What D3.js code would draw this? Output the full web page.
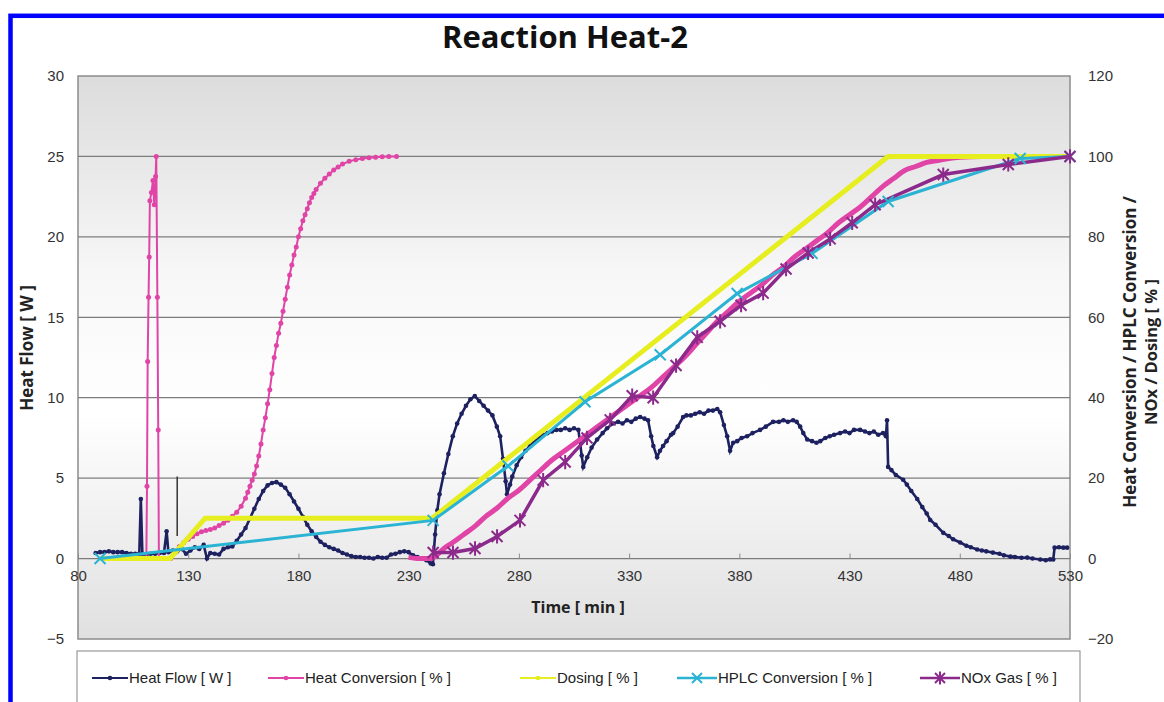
<!DOCTYPE html>
<html>
<head>
<meta charset="utf-8">
<script src="https://cdn.jsdelivr.net/npm/d3@7"></script>
<style>
body { margin: 0; background: #fff; }
svg text { font-family: "Liberation Sans", Arial, sans-serif; }
.title, .axis-title { font-family: "Open Sans", "Liberation Sans", sans-serif !important; font-weight: bold; }
</style>
</head>
<body>
<div class="chart"></div>
<script>
// data: [time min, value]
var leftTicks = [-5, 0, 5, 10, 15, 20, 25, 30];
var rightTicks = [-20, 0, 20, 40, 60, 80, 100, 120];
var timeTicks = [80, 130, 180, 230, 280, 330, 380, 430, 480, 530];

var heatFlow = [
  [88,0.35],[90,0.4],[92,0.4],[94,0.45],[96,0.4],[98,0.4],[100,0.4],[102,0.35],[104,0.3],[106,0.3],
  [107.8,0.3],[108.5,3.7],[109.2,0.3],[111,0.25],[113,0.3],[115,0.3],[117,0.35],[119,0.35],[120.2,1.7],
  [121,0.4],[123,0.5],[125,0.45],[127,0.6],[129,0.3],[131,0.5],[133,0.7],[135,0.6],[137,0.85],[138.5,0.0],
  [140,0.35],[142,0.3],[144,0.25],[146,0.6],[148,0.7],[150,0.75],[152,1.1],[154,1.5],[156,1.9],[158,2.5],
  [160,3.1],[162,3.7],[164,4.2],[166,4.55],[168,4.7],[170,4.75],[172,4.6],[174,4.4],[176,4.0],[178,3.55],
  [180,3.1],[182,2.6],[184,2.1],[186,1.7],[188,1.35],[190,1.05],[192,0.85],[194,0.7],[196,0.6],[198,0.5],
  [200,0.35],[202,0.25],[204,0.15],[206,0.1],[208,0.1],[210,0.05],[212,0.05],[214,0.0],[216,0.1],[218,0.05],
  [220,0.05],[222,0.25],[224,0.3],[226,0.4],[228,0.45],[230,0.4],[232,0.2],[234,0.1],[236,0.0],[238,-0.1],
  [240,-0.3],[241,-0.35],[242,1.5],[243,3.0],[244,4.0],[246,5.3],[248,6.5],[250,7.6],[252,8.4],[254,9.0],
  [256,9.5],[258,9.9],[260,10.1],[262,9.8],[264,9.5],[266,9.2],[268,8.9],[270,8.2],[271.5,7.6],[272.8,6.2],
  [274,4.8],[274.6,4.0],[276,4.6],[277,5.1],[279,5.8],[281,6.3],[283,6.7],[285,7.0],[287,7.3],[289,7.5],
  [291,7.7],[293,7.8],[295,7.9],[297,8.0],[299,8.0],[301,8.1],[303,8.0],[305,8.1],[307,8.0],[308.5,6.4],
  [309.2,5.7],[311,6.3],[313,6.9],[315.5,7.4],[318,7.8],[320,8.1],[322.7,8.4],[325,8.5],[327,8.4],[329,8.6],
  [331,8.5],[333,8.7],[335,8.8],[337,8.7],[338.6,8.6],[340,7.6],[341,7.0],[342.7,6.3],[344,6.7],[345.4,7.0],
  [347,7.3],[349,7.7],[350,7.8],[352,8.2],[354.5,8.8],[356,8.9],[358,8.9],[360,9.0],[362,9.1],[364,9.0],
  [366,9.2],[368,9.2],[370,9.3],[371.3,9.1],[373,8.3],[374.5,7.6],[375.8,6.7],[377.2,7.2],[379,7.3],[381,7.5],
  [383.5,7.6],[386,7.8],[389.4,8.0],[392,8.2],[395.3,8.5],[398,8.5],[400,8.6],[402,8.5],[404.4,8.6],[406,8.5],
  [407.6,8.2],[409,7.8],[410.8,7.4],[413,7.3],[415,7.2],[416.7,7.3],[419,7.5],[421,7.6],[423,7.7],[425.7,7.8],
  [428,7.9],[430,7.8],[432,8.0],[434.8,8.0],[437,7.9],[439,7.8],[441,7.9],[443,7.7],[445.2,7.8],[446.5,7.6],
  [447,8.6],[447.5,5.7],[449,5.5],[451,5.2],[454.3,4.9],[456,4.6],[458,4.2],[460.7,3.7],[463,3.2],[465,2.8],
  [466.6,2.4],[469,2.1],[472.5,1.6],[475,1.4],[477,1.2],[480.2,1.0],[483,0.8],[485,0.7],[487.9,0.56],[490,0.5],
  [492,0.45],[495,0.37],[498,0.3],[500,0.2],[503,0.12],[505,0.1],[508,0.05],[510.6,0.06],[513,0.0],[516.5,-0.06],
  [519,-0.1],[521,-0.05],[522.4,-0.06],[523,0.68],[525,0.7],[527,0.68],[528.7,0.68]
];
// thin vertical mark in the heat flow trace: [time, low W, high W]
var heatFlowMark = [[125, 1.4, 5.1]];

var heatConvEarly = [
  [111,0],[111.3,18],[111.6,49],[112,65],[112.3,75],[112.6,89],[113.3,91],[114,94],[114.6,88],[115.2,95],
  [115.5,100],[116,65],[116.4,32],[116.7,0],
  [122,0],[124,1.5],[126,3],[128,4],[130,4.8],[132,5.5],[134,6.2],[136,6.7],[138,7.0],[140,7.2],[142,7.6],
  [144,8.2],[146,8.8],[148,9.5],[150,10.5],[152,11.5],[154,13],[156,15],[157,16.5],[158,18],[159,19.5],
  [160,21],[161,23],[162,25.5],[163,28.5],[164,32],[165,35],[166,38.5],[167,42],[168,46],[169,50],[170,53],
  [171,56],[172,58.5],[173,61.5],[174,64.5],[175,67.5],[176,70.5],[177,73],[178,75.5],[179,77.5],[180,80],
  [181,82],[182,84],[183,85.5],[184,87],[185,88.5],[186,89.8],[187,90.8],[188,91.8],[190,93.3],[192,94.6],
  [194,95.6],[196,96.6],[198,97.4],[200,98.1],[203,98.8],[206,99.2],[209,99.5],[212,99.7],[215,99.8],
  [218,99.9],[221,100],[224.5,100]
];
var heatConvLate = [
  [230,0.3],[235,0],[240,0],[243,1],[246,2.5],[250,4],[255,6],[260,8],[265,10.5],[270,12.5],[275,15],
  [280,17],[285,19.5],[290,22],[295,24.5],[300,26.5],[305,28.5],[310,30.5],[315,32.5],[320,34.5],[325,36.5],
  [330,38.5],[335,40.5],[340,42.5],[345,45],[350,47.5],[355,50],[360,53],[365,56],[370,59],[375,61.5],[380,64],
  [385,66],[390,68],[395,70.5],[400,72.5],[405,75],[410,77],[415,79],[420,81],[425,83.5],[430,85.5],
  [435,87.5],[440,90],[445,92.5],[450,94.5],[455,96.5],[460,97.5],[465,98.5],[470,99],[475,99.5],
  [480,99.8],[490,100],[500,100],[510,100],[520,100],[530,100]
];
var dosing = [[90,0],[121.7,0],[137.6,10],[240.6,10],[447.5,100],[530,100]];
var hplc = [[90,0],[241.1,9.5],[275.1,23],[310,39],[344.1,50.7],[379,65.9],[413,75.9],[447.5,88.8],[507.4,99.5],[530,100]];
var nox = [[241.1,1.5],[250.1,1.5],[260.1,2.5],[270.1,5.5],[280.5,9.5],[291,19.5],[301,24],[310.9,30],[321.4,34.5],
  [331.4,40.5],[340.9,40],[351.3,48],[360.9,55],[371.3,59],[380.8,63],[390.8,66],[401.2,72],[411.2,76],
  [421.2,79.5],[431.2,83.5],[441.6,88],[472.5,95.5],[502,98],[530,100]];

var seriesNames = ["Heat Flow [ W ]", "Heat Conversion [ % ]", "Dosing [ % ]", "HPLC Conversion [ % ]", "NOx Gas [ % ]"];
var colors = { flow: "#1d2160", conv: "#e044a6", dosing: "#e6ee20", hplc: "#2ab3d3", nox: "#8c2a8c" };

var config = {};
config.svg = { width: 1164, height: 702 };
config.plot = { left: 78, right: 1070, top: 76, bottom: 639 };

var x = d3.scaleLinear().domain([80, 530]).range([config.plot.left, config.plot.right]);
var yL = d3.scaleLinear().domain([-5, 30]).range([config.plot.bottom, config.plot.top]);
var yR = d3.scaleLinear().domain([-20, 120]).range([config.plot.bottom, config.plot.top]);

var translate = (a, b) => "translate(" + a + "," + b + ")";

var svg = d3.select(".chart").append("svg")
  .attr("width", config.svg.width)
  .attr("height", config.svg.height);

// blue frame
svg.append("rect")
  .attr("x", 10.5).attr("y", 15.8)
  .attr("width", 1400).attr("height", 1000)
  .attr("fill", "none").attr("stroke", "#0000ff").attr("stroke-width", 4.5);

var defs = svg.append("defs");
var grad = defs.append("linearGradient").attr("id", "plotbg")
  .attr("x1", 0).attr("y1", 0).attr("x2", 0).attr("y2", 1);
[[0, "#dcdcdc"], [0.35, "#f7f7f7"], [0.6, "#ffffff"], [1, "#e0e0e0"]].forEach(s => {
  grad.append("stop").attr("offset", s[0]).attr("stop-color", s[1]);
});
defs.append("clipPath").attr("id", "clip").append("rect")
  .attr("x", config.plot.left).attr("y", config.plot.top)
  .attr("width", config.plot.right - config.plot.left)
  .attr("height", config.plot.bottom - config.plot.top);

// plot area
svg.append("rect")
  .attr("x", config.plot.left).attr("y", config.plot.top)
  .attr("width", config.plot.right - config.plot.left)
  .attr("height", config.plot.bottom - config.plot.top)
  .attr("fill", "url(#plotbg)")
  .attr("stroke", "#8c8c8c").attr("stroke-width", 1.5);

// grid lines
svg.append("g").selectAll("line")
  .data(leftTicks.filter(d => d > -5 && d < 30))
  .enter().append("line")
  .attr("x1", config.plot.left).attr("x2", config.plot.right)
  .attr("y1", d => yL(d)).attr("y2", d => yL(d))
  .attr("stroke", "#7c7c7c").attr("stroke-width", 1.2);

// axes
var styleAxis = g => {
  g.select(".domain").remove();
  g.selectAll("text").attr("font-size", "15px").attr("fill", "#333");
  g.selectAll("line").attr("stroke", "#8c8c8c");
};
svg.append("g").attr("transform", translate(config.plot.left, 0))
  .call(d3.axisLeft(yL).tickValues(leftTicks).tickSize(0).tickPadding(14).tickFormat(d => d < 0 ? "\u2212" + (-d) : d))
  .call(styleAxis);
svg.append("g").attr("transform", translate(config.plot.right, 0))
  .call(d3.axisRight(yR).tickValues(rightTicks).tickSize(0).tickPadding(18).tickFormat(d => d < 0 ? "\u2212" + (-d) : d))
  .call(styleAxis);
svg.append("g").attr("transform", translate(0, yL(0)))
  .call(d3.axisBottom(x).tickValues(timeTicks).tickSizeInner(-5).tickSizeOuter(0).tickPadding(12))
  .call(styleAxis);

// titles
svg.append("text").attr("class", "title")
  .attr("x", 565).attr("y", 48).attr("text-anchor", "middle")
  .attr("font-size", "31px").attr("fill", "#111").text("Reaction Heat-2");
svg.append("text").attr("class", "axis-title")
  .attr("x", 578).attr("y", 613).attr("text-anchor", "middle")
  .attr("font-size", "16px").attr("fill", "#222").text("Time [ min ]");
svg.append("text").attr("class", "axis-title")
  .attr("transform", translate(33, 348) + " rotate(-90)")
  .attr("text-anchor", "middle").attr("font-size", "17px").attr("fill", "#222")
  .text("Heat Flow [ W ]");
svg.append("text").attr("class", "axis-title")
  .attr("transform", translate(1136, 352) + " rotate(-90)")
  .attr("text-anchor", "middle").attr("font-size", "17px").attr("fill", "#222")
  .text("Heat Conversion / HPLC Conversion /");
svg.append("text").attr("class", "axis-title")
  .attr("transform", translate(1157, 352) + " rotate(-90)")
  .attr("text-anchor", "middle").attr("font-size", "16.5px").attr("fill", "#222")
  .text("NOx / Dosing [ % ]");

// series
var plot = svg.append("g").attr("clip-path", "url(#clip)");
var lineL = d3.line().x(d => x(d[0])).y(d => yL(d[1]));
var lineR = d3.line().x(d => x(d[0])).y(d => yR(d[1]));

// heat flow
plot.append("path").datum(heatFlow).attr("d", lineL)
  .attr("fill", "none").attr("stroke", colors.flow).attr("stroke-width", 2.6);
plot.selectAll("circle.hf").data(heatFlow).enter().append("circle")
  .attr("class", "hf").attr("cx", d => x(d[0])).attr("cy", d => yL(d[1])).attr("r", 2.3)
  .attr("fill", colors.flow);
plot.selectAll("line.mark").data(heatFlowMark).enter().append("line")
  .attr("class", "mark")
  .attr("x1", d => x(d[0])).attr("x2", d => x(d[0]))
  .attr("y1", d => yL(d[1])).attr("y2", d => yL(d[2]))
  .attr("stroke", "#333").attr("stroke-width", 1.5);

// heat conversion
plot.append("path").datum(heatConvEarly).attr("d", lineR)
  .attr("fill", "none").attr("stroke", colors.conv).attr("stroke-width", 2);
plot.selectAll("circle.hc").data(heatConvEarly).enter().append("circle")
  .attr("class", "hc").attr("cx", d => x(d[0])).attr("cy", d => yR(d[1])).attr("r", 2.5)
  .attr("fill", colors.conv);
plot.append("path").datum(heatConvLate).attr("d", lineR.curve(d3.curveMonotoneX))
  .attr("fill", "none").attr("stroke", colors.conv).attr("stroke-width", 5);
lineR.curve(d3.curveLinear);

// dosing
plot.append("path").datum(dosing).attr("d", lineR)
  .attr("fill", "none").attr("stroke", colors.dosing).attr("stroke-width", 5)
  .attr("stroke-linejoin", "round");

// HPLC
plot.append("path").datum(hplc).attr("d", lineR)
  .attr("fill", "none").attr("stroke", colors.hplc).attr("stroke-width", 3);
var crossPath = s => "M" + (-s) + "," + (-s) + "L" + s + "," + s + "M" + (-s) + "," + s + "L" + s + "," + (-s);
var starPath = s => crossPath(s) + "M0," + (-s * 1.3) + "L0," + (s * 1.3);
svg.selectAll("path.hplcm").data(hplc).enter().append("path")
  .attr("class", "hplcm")
  .attr("transform", d => translate(x(d[0]), yR(d[1])))
  .attr("d", crossPath(5.5))
  .attr("stroke", colors.hplc).attr("stroke-width", 2).attr("fill", "none");

// NOx
plot.append("path").datum(nox).attr("d", lineR)
  .attr("fill", "none").attr("stroke", colors.nox).attr("stroke-width", 3.5);
svg.selectAll("path.noxm").data(nox).enter().append("path")
  .attr("class", "noxm")
  .attr("transform", d => translate(x(d[0]), yR(d[1])))
  .attr("d", starPath(5.5))
  .attr("stroke", colors.nox).attr("stroke-width", 2).attr("fill", "none");

// legend
var legend = svg.append("g").attr("id", "legend");
legend.append("rect")
  .attr("x", 77).attr("y", 651).attr("width", 1003).attr("height", 100)
  .attr("fill", "#fff").attr("stroke", "#999").attr("stroke-width", 1.2);
var legendItems = [
  { name: seriesNames[0], color: colors.flow, x: 92, w: 36, marker: "dot", sw: 2 },
  { name: seriesNames[1], color: colors.conv, x: 268, w: 36, marker: "dot", sw: 2 },
  { name: seriesNames[2], color: colors.dosing, x: 520, w: 36, marker: "dot", sw: 2 },
  { name: seriesNames[3], color: colors.hplc, x: 677, w: 40, marker: "cross", sw: 2.5 },
  { name: seriesNames[4], color: colors.nox, x: 920, w: 40, marker: "star", sw: 2.5 }
];
var li = legend.selectAll("g.item").data(legendItems).enter().append("g")
  .attr("class", "item").attr("transform", d => translate(d.x, 678));
li.append("line").attr("x1", 0).attr("x2", d => d.w)
  .attr("stroke", d => d.color).attr("stroke-width", d => d.sw);
li.filter(d => d.marker === "dot").append("circle")
  .attr("cx", d => d.w / 2).attr("r", 2.3).attr("fill", d => d.color);
li.filter(d => d.marker === "cross").append("path")
  .attr("transform", d => translate(d.w / 2, 0)).attr("d", crossPath(5))
  .attr("stroke", d => d.color).attr("stroke-width", 2).attr("fill", "none");
li.filter(d => d.marker === "star").append("path")
  .attr("transform", d => translate(d.w / 2, 0)).attr("d", starPath(5))
  .attr("stroke", d => d.color).attr("stroke-width", 2).attr("fill", "none");
li.append("text").attr("x", d => d.w + 1).attr("dy", "0.36em")
  .attr("font-size", "15px").attr("fill", "#222").text(d => d.name);
</script>
</body>
</html>
